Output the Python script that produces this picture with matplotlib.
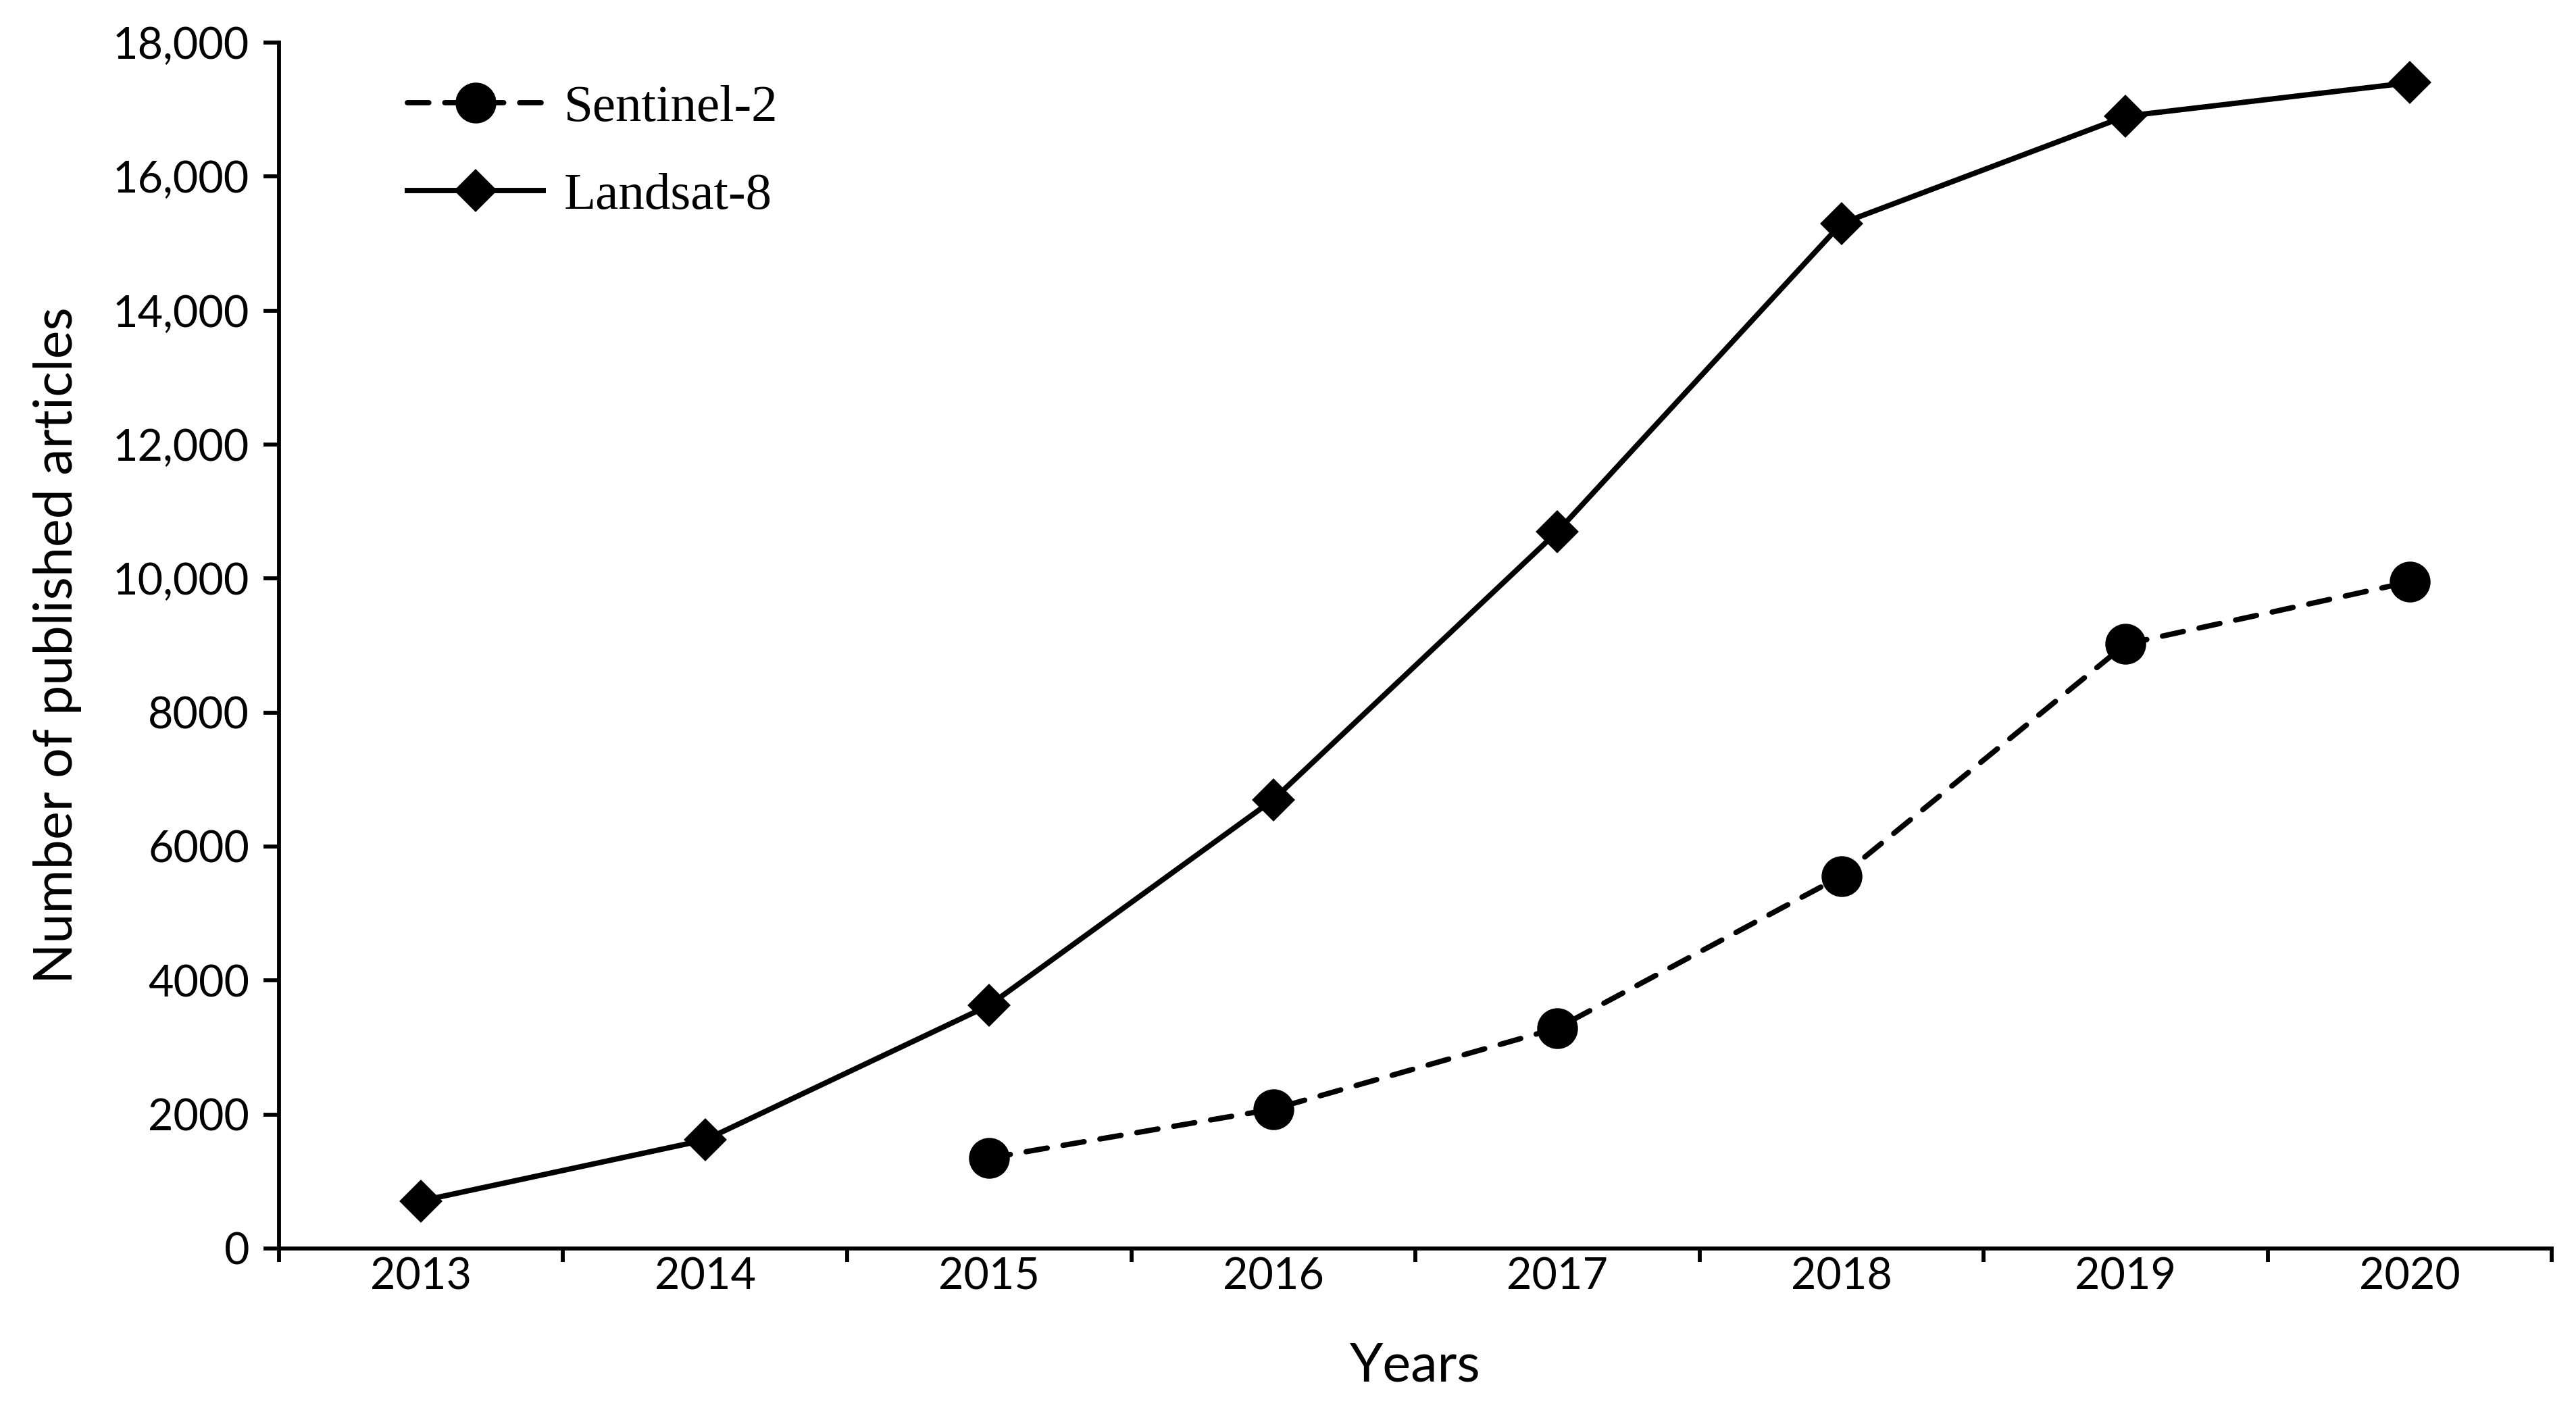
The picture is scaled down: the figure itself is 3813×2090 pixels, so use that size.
import numpy as np
import matplotlib.pyplot as plt
from matplotlib.ticker import FixedLocator, NullFormatter

# data
years = ["2013", "2014", "2015", "2016", "2017", "2018", "2019", "2020"]
landsat8 = [710, 1620, 3630, 6700, 10700, 15300, 16900, 17400]
sentinel_years = ["2015", "2016", "2017", "2018", "2019", "2020"]
sentinel2 = [1350, 2080, 3290, 5560, 9020, 9950]
ytick_vals = [0, 2000, 4000, 6000, 8000, 10000, 12000, 14000, 16000, 18000]
ytick_labels = ["0", "2000", "4000", "6000", "8000", "10,000", "12,000",
                "14,000", "16,000", "18,000"]

plt.rcParams['font.family'] = ['Lato', 'DejaVu Sans']

fig = plt.figure(figsize=(3813 / 300, 2090 / 300), dpi=300)
ax = fig.add_axes([0.1083, 0.1158, 0.8823, 0.8541])

x_l = np.arange(len(years))
x_s = np.array([years.index(y) for y in sentinel_years])

ax.plot(x_s, sentinel2, color='black', lw=1.9, ls=(0, (4, 3)),
        dash_capstyle='round', marker='o', ms=13.5, label='Sentinel-2')
ax.plot(x_l, landsat8, color='black', lw=1.9, ls='-',
        marker='D', ms=10, label='Landsat-8')

ax.set_xlim(-0.5, len(years) - 0.5)
ax.set_ylim(0, 18000)

# ticks between categories, labels at category centers
ax.xaxis.set_major_locator(FixedLocator(np.arange(-0.5, len(years), 1)))
ax.xaxis.set_major_formatter(NullFormatter())
ax.xaxis.set_minor_locator(FixedLocator(x_l))
ax.set_xticklabels(years, minor=True)
ax.tick_params(axis='x', which='major', length=4.8, width=1.4, direction='out')
ax.tick_params(axis='x', which='minor', length=0, pad=3, labelsize=15.5)

ax.set_yticks(ytick_vals)
ax.set_yticklabels(ytick_labels)
ax.tick_params(axis='y', length=5.5, width=1.4, direction='out', pad=5,
               labelsize=15.5)

for s in ['top', 'right']:
    ax.spines[s].set_visible(False)
for s in ['left', 'bottom']:
    ax.spines[s].set_linewidth(1.4)

ax.set_xlabel("Years", fontsize=19, labelpad=16)
ax.set_ylabel("Number of published articles", fontsize=19, labelpad=11)

leg = ax.legend(loc='upper left', bbox_to_anchor=(0.036, 1.004), frameon=False,
                prop={'family': 'Liberation Serif', 'size': 18.5},
                handlelength=2.6, labelspacing=0.78, handletextpad=0.4)

fig.savefig("out.png", dpi=300)
